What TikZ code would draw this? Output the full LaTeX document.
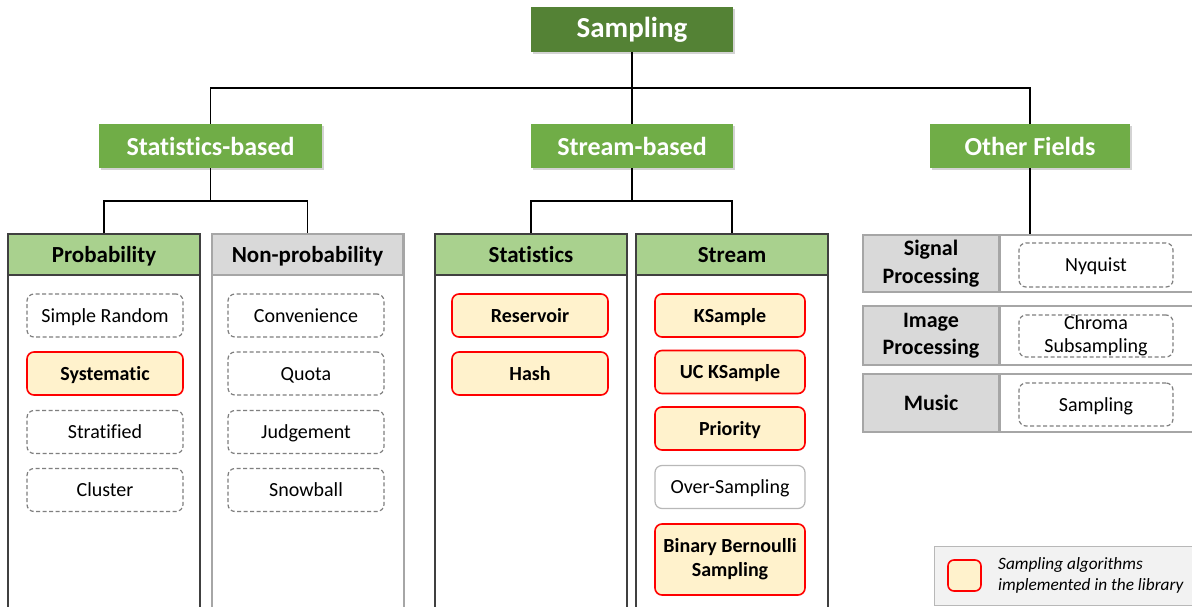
\documentclass[tikz,border=0pt]{standalone}
\usepackage{fontspec}
\setmainfont{Carlito}[Ligatures={NoCommon,NoContextual}]
\usetikzlibrary{shadows}
\definecolor{dkgreen}{HTML}{548235}
\definecolor{midgreen}{HTML}{70AD47}
\definecolor{ltgreen}{HTML}{A9D18E}
\definecolor{ltgray}{HTML}{D9D9D9}
\definecolor{cream}{HTML}{FFF2CC}
\definecolor{dashgray}{HTML}{7F7F7F}
\definecolor{bordgray}{HTML}{A6A6A6}
\definecolor{leggray}{HTML}{F2F2F2}
\begin{document}
\begin{tikzpicture}[x=1pt,y=-1pt,
  link/.style={line width=1.6pt,black},
  topbox/.style={fill=dkgreen,text=white,font=\fontsize{29}{31}\selectfont\bfseries,minimum width=202pt,minimum height=45pt,inner sep=0pt,drop shadow={opacity=0.35,shadow xshift=2pt,shadow yshift=-2pt}},
  midbox/.style={fill=midgreen,text=white,font=\fontsize{26}{28}\selectfont\bfseries,minimum height=44pt,inner sep=0pt,drop shadow={opacity=0.35,shadow xshift=2pt,shadow yshift=-2pt}},
  hdgreen/.style={text height=19pt,text depth=4pt,fill=ltgreen,draw=black!75,line width=1.2pt,font=\fontsize{23}{25}\selectfont\bfseries,minimum width=192pt,minimum height=41pt,inner sep=0pt},
  hdgray/.style={text height=19pt,text depth=4pt,fill=ltgray,draw=bordgray,line width=1.2pt,font=\fontsize{23}{25}\selectfont\bfseries,minimum width=191pt,minimum height=41pt,inner sep=0pt},
  item/.style={rounded corners=7pt,minimum width=156pt,minimum height=43pt,inner sep=0pt,align=center,font=\fontsize{20}{23}\selectfont},
  one/.style={text height=17pt,text depth=3.5pt},
  dashitem/.style={item,draw=dashgray,dashed,line width=1.2pt,dash pattern=on 4pt off 2.5pt},
  impl/.style={item,draw=red,fill=cream,line width=1.6pt,font=\fontsize{20}{24}\selectfont\bfseries},
  plain/.style={item,draw=bordgray!80,line width=1.2pt},
  fieldl/.style={fill=ltgray,draw=bordgray,line width=1.2pt,font=\fontsize{22}{27.5}\selectfont\bfseries,align=center,minimum width=136pt,inner sep=0pt},
  fieldr/.style={fill=white,draw=bordgray,line width=1.2pt,minimum width=200pt,inner sep=0pt}
]
\useasboundingbox (0,0) rectangle (1192,607);
\clip (0,0) rectangle (1192,607);

% top levels
\node[topbox] (samp) at (632,29.5) {Sampling};
\node[midbox,minimum width=223pt] (statb) at (210.5,146) {Statistics-based};
\node[midbox,minimum width=202pt] (streamb) at (632,146) {Stream-based};
\node[midbox,minimum width=200pt] (other) at (1030,146) {Other Fields};

\coordinate (bar) at (632,88);
\draw[link] (samp.south) -- (streamb.north);
\draw[link] (statb.north) |- (bar) -| (other.north);

% panels
\foreach \x/\c in {8/black!75,212/bordgray,435/black!75,636/black!75}{
  \draw[draw=\c,line width=1.2pt,fill=white] (\x,234) rectangle ++(192,400);
}
\node[hdgreen] (prob) at (104,254.5) {Probability};
\node[hdgray] (nonprob) at (307.5,254.5) {Non-probability};
\node[hdgreen] (stats) at (531,254.5) {Statistics};
\node[hdgreen] (stream) at (732,254.5) {Stream};

\coordinate (j1) at (210.5,201);
\coordinate (j2) at (632,201);
\draw[link] (statb.south) -- (j1);
\draw[link] (prob.north) |- (j1) -| (nonprob.north);
\draw[link] (streamb.south) -- (j2);
\draw[link] (stats.north) |- (j2) -| (stream.north);

% probability
\node[dashitem,one] (sr) at (105,315.5) {Simple Random};
\node[impl,one] (sys) at (105,373.5) {Systematic};
\node[dashitem,one] (strat) at (105,432) {Stratified};
\node[dashitem,one] (clus) at (105,490) {Cluster};
% non-probability
\node[dashitem,one] (conv) at (306,315.5) {Convenience};
\node[dashitem,one] (quota) at (306,373.5) {Quota};
\node[dashitem,one] (judg) at (306,432) {Judgement};
\node[dashitem,one] (snow) at (306,490) {Snowball};
% statistics
\node[impl,one] (res) at (530,315.5) {Reservoir};
\node[impl,one] (hash) at (530,373.5) {Hash};
% stream
\node[impl,one,minimum width=150pt] (ks) at (730,315.5) {KSample};
\node[impl,one,minimum width=150pt] (uck) at (730,372) {UC KSample};
\node[impl,one,minimum width=150pt] (prio) at (730,428.5) {Priority};
\node[plain,one,minimum width=150pt] (over) at (730,487) {Over-Sampling};
\node[impl,minimum width=150pt,minimum height=71pt] (bbs) at (730,559.5) {Binary Bernoulli\\Sampling};

% other fields
\node[fieldl,minimum height=57pt] (sig) at (931,263.5) {Signal\\Processing};
\node[fieldr,minimum height=57pt,anchor=west] (sigr) at (sig.east) {};
\node[fieldl,minimum height=59pt] (img) at (931,335.5) {Image\\Processing};
\node[fieldr,minimum height=59pt,anchor=west] (imgr) at (img.east) {};
\node[fieldl,text height=18pt,text depth=4pt,minimum height=58pt] (mus) at (931,403) {Music};
\node[fieldr,minimum height=58pt,anchor=west] (musr) at (mus.east) {};
\draw[link] (other.south) -- (other.south |- sig.north);

\node[dashitem,one,minimum width=154pt,minimum height=44pt] (nyq) at (1096,265) {Nyquist};
\node[dashitem,minimum width=154pt,minimum height=42pt,font=\fontsize{20}{23}\selectfont] (chroma) at (1096,336) {Chroma\\Subsampling};
\node[dashitem,one,minimum width=154pt,minimum height=43pt] (msamp) at (1096,404.5) {Sampling};

% legend
\node[draw=bordgray!80,fill=leggray,line width=1.2pt,minimum width=270pt,minimum height=59pt,inner sep=0pt,anchor=north west] (leg) at (934,546) {};
\node[draw=red,fill=cream,line width=1.6pt,rounded corners=6pt,minimum width=33pt,minimum height=31pt,inner sep=0pt] (legbox) at (964.5,575.5) {};
\node[anchor=west,align=left,inner sep=0pt,font=\fontsize{17.3}{21}\selectfont\itshape] (legtxt) at (998,575.5) {Sampling algorithms\\implemented in the library};
\end{tikzpicture}
\end{document}
